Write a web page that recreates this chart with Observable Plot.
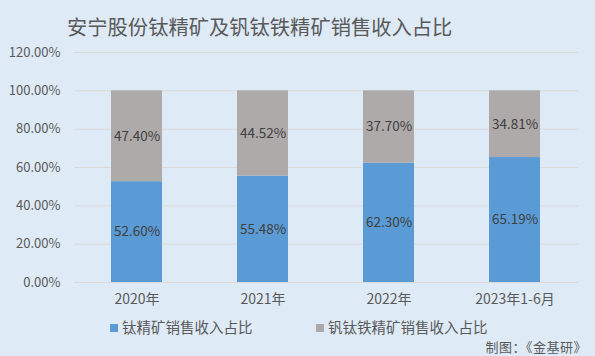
<!DOCTYPE html>
<html>
<head>
<meta charset="utf-8">
<script src="https://cdn.jsdelivr.net/npm/d3@7"></script>
<script src="https://cdn.jsdelivr.net/npm/@observablehq/plot@0.6"></script>
<style>
  html, body { margin: 0; padding: 0; }
  body { width: 595px; height: 356px; background: #DEEBF7; position: relative; overflow: hidden;
         font-family: "Noto Sans CJK SC", "Noto Sans", sans-serif; }
  #title { position: absolute; left: 0; top: 12px; width: 595px; text-align: left; padding-left: 67px; box-sizing: border-box;
           font-size: 20.3px; line-height: 28px; color: #595959; }
  #chart { position: absolute; left: 0; top: 40px; }
  #legend { position: absolute; left: 0; top: 317px; width: 595px; height: 20px; font-size: 14.5px; color: #595959; }
  .item { position: absolute; top: 0; line-height: 20px; white-space: nowrap; }
  .sw { display: inline-block; width: 8px; height: 8px; margin-right: 4px; vertical-align: 1px; }
  #caption { position: absolute; right: 8px; top: 338px; font-size: 13px; line-height: 18px; color: #595959; letter-spacing: 0.5px; }
</style>
</head>
<body>
<div id="title"></div>
<div id="chart"></div>
<div id="legend"></div>
<div id="caption"></div>
<script>
const titleText = "安宁股份钛精矿及钒钛铁精矿销售收入占比";
const captionText = "制图：《金基研》";
const categories = ["2020年", "2021年", "2022年", "2023年1-6月"];
const seriesNames = ["钛精矿销售收入占比", "钒钛铁精矿销售收入占比"];
const tiShare = [52.60, 55.48, 62.30, 65.19];
const vtiShare = [47.40, 44.52, 37.70, 34.81];
const yTicks = [0, 20, 40, 60, 80, 100, 120];
const colors = ["#5B9BD5", "#AEAAAA"];

const data = [];
categories.forEach((c, i) => {
  data.push({cat: c, series: seriesNames[0], value: tiShare[i]});
  data.push({cat: c, series: seriesNames[1], value: vtiShare[i]});
});

document.getElementById("title").textContent = titleText;
document.getElementById("caption").textContent = captionText;

const chart = Plot.plot({
  width: 595,
  height: 273,
  marginTop: 12,
  marginBottom: 31,
  marginLeft: 74,
  marginRight: 17,
  style: {background: "transparent", fontFamily: "'Noto Sans CJK SC', 'Noto Sans', sans-serif", color: "#595959"},
  x: {domain: categories, paddingInner: 0.595, paddingOuter: 0.2975, label: null},
  y: {domain: [0, 120], label: null},
  color: {domain: seriesNames, range: colors},
  marks: [
    Plot.ruleY(yTicks, {stroke: "#D9D9D9", strokeWidth: 1}),
    Plot.barY(data, {x: "cat", y: "value", fill: "series", order: seriesNames}),
    Plot.text(data, Plot.stackY({x: "cat", y: "value", z: "series", order: seriesNames,
      text: d => d.value.toFixed(2) + "%", fill: "#404040", fontSize: 13.5})),
    Plot.axisX({tickSize: 0, tickPadding: 12, fontSize: 14, fill: "#595959"}),
    Plot.axisY({ticks: yTicks, tickSize: 0, tickPadding: 14, fontSize: 13, fill: "#595959",
      tickFormat: d => d.toFixed(2) + "%"})
  ]
});
document.getElementById("chart").appendChild(chart);

const legend = document.getElementById("legend");
const legendX = [110, 316];
seriesNames.forEach((name, i) => {
  const item = document.createElement("div");
  item.className = "item";
  item.style.left = legendX[i] + "px";
  const sw = document.createElement("span");
  sw.className = "sw";
  sw.style.background = colors[i];
  item.appendChild(sw);
  item.appendChild(document.createTextNode(name));
  legend.appendChild(item);
});
</script>
</body>
</html>
